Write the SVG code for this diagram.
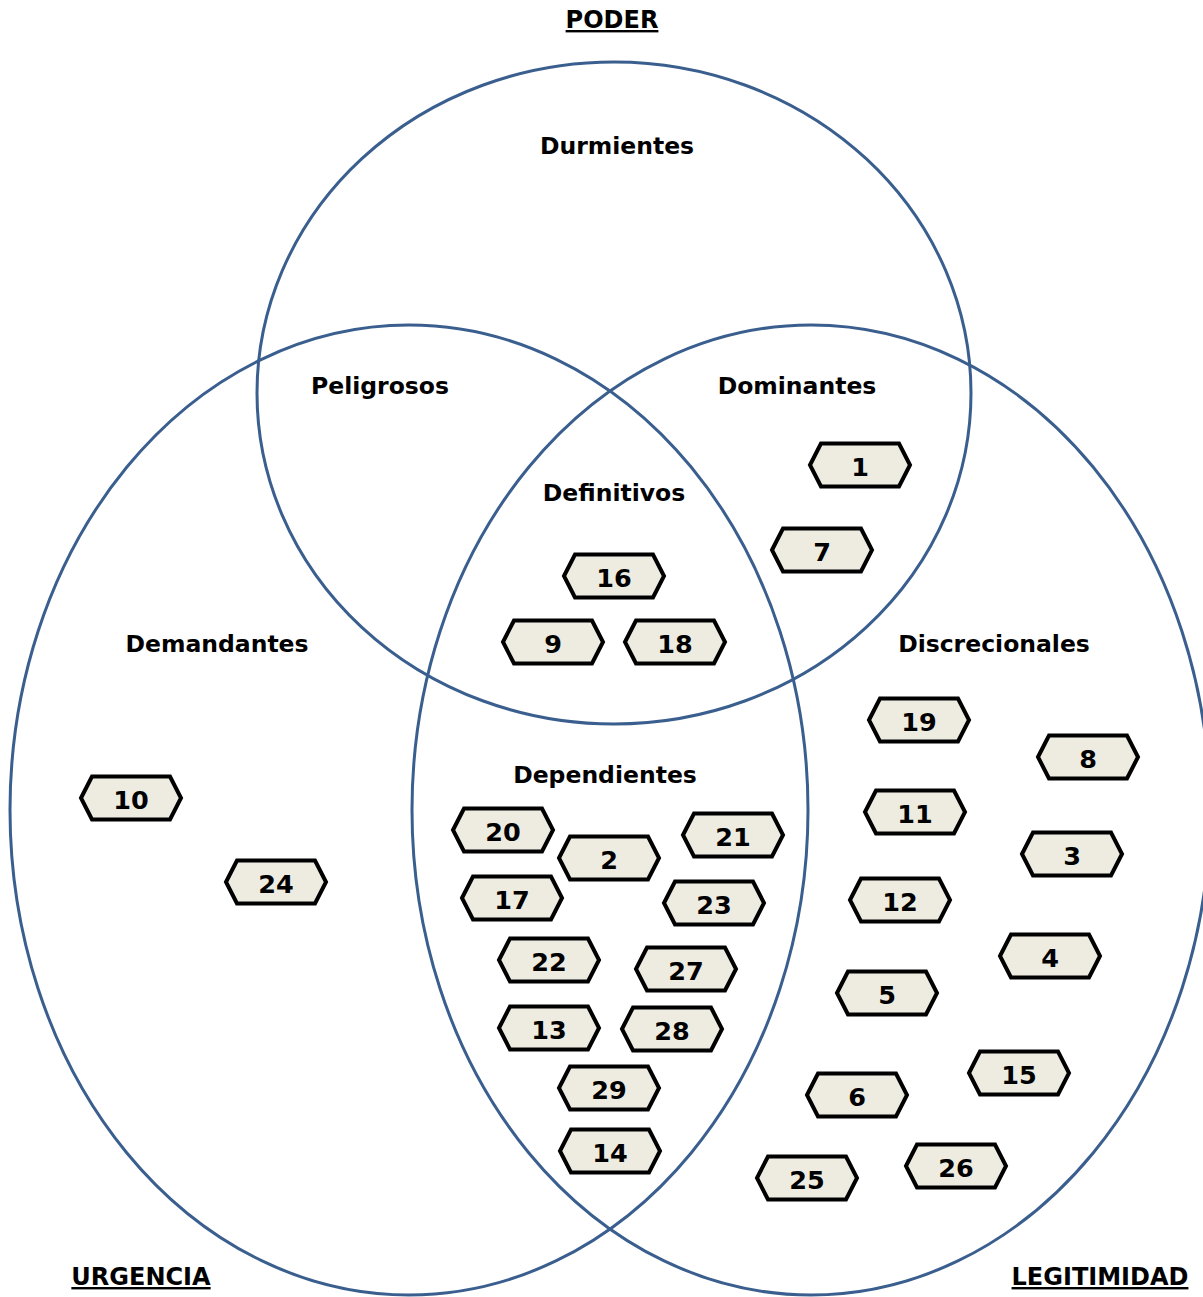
<svg xmlns="http://www.w3.org/2000/svg" xmlns:xlink="http://www.w3.org/1999/xlink" width="1203" height="1297" viewBox="0 0 1203 1297">
<style>
.set{fill:none;stroke:#3A5F8F;stroke-width:3}
.hex{fill:#EEECE1;stroke:#000;stroke-width:4;stroke-linejoin:miter}
.num{font-family:"DejaVu Sans","Open Sans",sans-serif;font-weight:bold;font-size:25.5px;text-anchor:middle;fill:#000}
.lbl{font-family:"DejaVu Sans","Open Sans",sans-serif;font-weight:bold;font-size:23.5px;text-anchor:middle;fill:#000}
.ttl{font-family:"DejaVu Sans","Open Sans",sans-serif;font-weight:bold;font-size:24px;text-anchor:middle;fill:#000;text-decoration:underline}
</style>
<defs>
<path id="hx" class="hex" d="M-50,0 L-39,-21.5 L39,-21.5 L50,0 L39,21.5 L-39,21.5 Z"/>
</defs>
<rect width="1203" height="1297" fill="#fff"/>
<g id="sets">
<ellipse id="poder" class="set" cx="614" cy="393" rx="357" ry="331"/>
<ellipse id="urgencia" class="set" cx="409" cy="810" rx="399" ry="485"/>
<ellipse id="legitimidad" class="set" cx="811" cy="810" rx="399" ry="485"/>
</g>
<g id="titles">
<text class="ttl" x="612" y="28">PODER</text>
<text class="ttl" x="141" y="1285">URGENCIA</text>
<text class="ttl" x="1100" y="1285">LEGITIMIDAD</text>
</g>
<g id="regions">
<text class="lbl" x="617" y="154">Durmientes</text>
<text class="lbl" x="380" y="394">Peligrosos</text>
<text class="lbl" x="797" y="394">Dominantes</text>
<text class="lbl" x="614" y="501">Definitivos</text>
<text class="lbl" x="217" y="652">Demandantes</text>
<text class="lbl" x="994" y="652">Discrecionales</text>
<text class="lbl" x="605" y="783">Dependientes</text>
</g>
<g id="n1"><use xlink:href="#hx" x="860" y="465"/><text class="num" x="860" y="475.5">1</text></g>
<g id="n7"><use xlink:href="#hx" x="822" y="550"/><text class="num" x="822" y="560.5">7</text></g>
<g id="n16"><use xlink:href="#hx" x="614" y="576"/><text class="num" x="614" y="586.5">16</text></g>
<g id="n9"><use xlink:href="#hx" x="553" y="642"/><text class="num" x="553" y="652.5">9</text></g>
<g id="n18"><use xlink:href="#hx" x="675" y="642"/><text class="num" x="675" y="652.5">18</text></g>
<g id="n19"><use xlink:href="#hx" x="919" y="720"/><text class="num" x="919" y="730.5">19</text></g>
<g id="n8"><use xlink:href="#hx" x="1088" y="757"/><text class="num" x="1088" y="767.5">8</text></g>
<g id="n10"><use xlink:href="#hx" x="131" y="798"/><text class="num" x="131" y="808.5">10</text></g>
<g id="n20"><use xlink:href="#hx" x="503" y="830"/><text class="num" x="503" y="840.5">20</text></g>
<g id="n2"><use xlink:href="#hx" x="609" y="858"/><text class="num" x="609" y="868.5">2</text></g>
<g id="n21"><use xlink:href="#hx" x="733" y="835"/><text class="num" x="733" y="845.5">21</text></g>
<g id="n11"><use xlink:href="#hx" x="915" y="812"/><text class="num" x="915" y="822.5">11</text></g>
<g id="n3"><use xlink:href="#hx" x="1072" y="854"/><text class="num" x="1072" y="864.5">3</text></g>
<g id="n24"><use xlink:href="#hx" x="276" y="882"/><text class="num" x="276" y="892.5">24</text></g>
<g id="n17"><use xlink:href="#hx" x="512" y="898"/><text class="num" x="512" y="908.5">17</text></g>
<g id="n23"><use xlink:href="#hx" x="714" y="903"/><text class="num" x="714" y="913.5">23</text></g>
<g id="n12"><use xlink:href="#hx" x="900" y="900"/><text class="num" x="900" y="910.5">12</text></g>
<g id="n22"><use xlink:href="#hx" x="549" y="960"/><text class="num" x="549" y="970.5">22</text></g>
<g id="n27"><use xlink:href="#hx" x="686" y="969"/><text class="num" x="686" y="979.5">27</text></g>
<g id="n4"><use xlink:href="#hx" x="1050" y="956"/><text class="num" x="1050" y="966.5">4</text></g>
<g id="n5"><use xlink:href="#hx" x="887" y="993"/><text class="num" x="887" y="1003.5">5</text></g>
<g id="n13"><use xlink:href="#hx" x="549" y="1028"/><text class="num" x="549" y="1038.5">13</text></g>
<g id="n28"><use xlink:href="#hx" x="672" y="1029"/><text class="num" x="672" y="1039.5">28</text></g>
<g id="n29"><use xlink:href="#hx" x="609" y="1088"/><text class="num" x="609" y="1098.5">29</text></g>
<g id="n14"><use xlink:href="#hx" x="610" y="1151"/><text class="num" x="610" y="1161.5">14</text></g>
<g id="n6"><use xlink:href="#hx" x="857" y="1095"/><text class="num" x="857" y="1105.5">6</text></g>
<g id="n15"><use xlink:href="#hx" x="1019" y="1073"/><text class="num" x="1019" y="1083.5">15</text></g>
<g id="n26"><use xlink:href="#hx" x="956" y="1166"/><text class="num" x="956" y="1176.5">26</text></g>
<g id="n25"><use xlink:href="#hx" x="807" y="1178"/><text class="num" x="807" y="1188.5">25</text></g>
</svg>
